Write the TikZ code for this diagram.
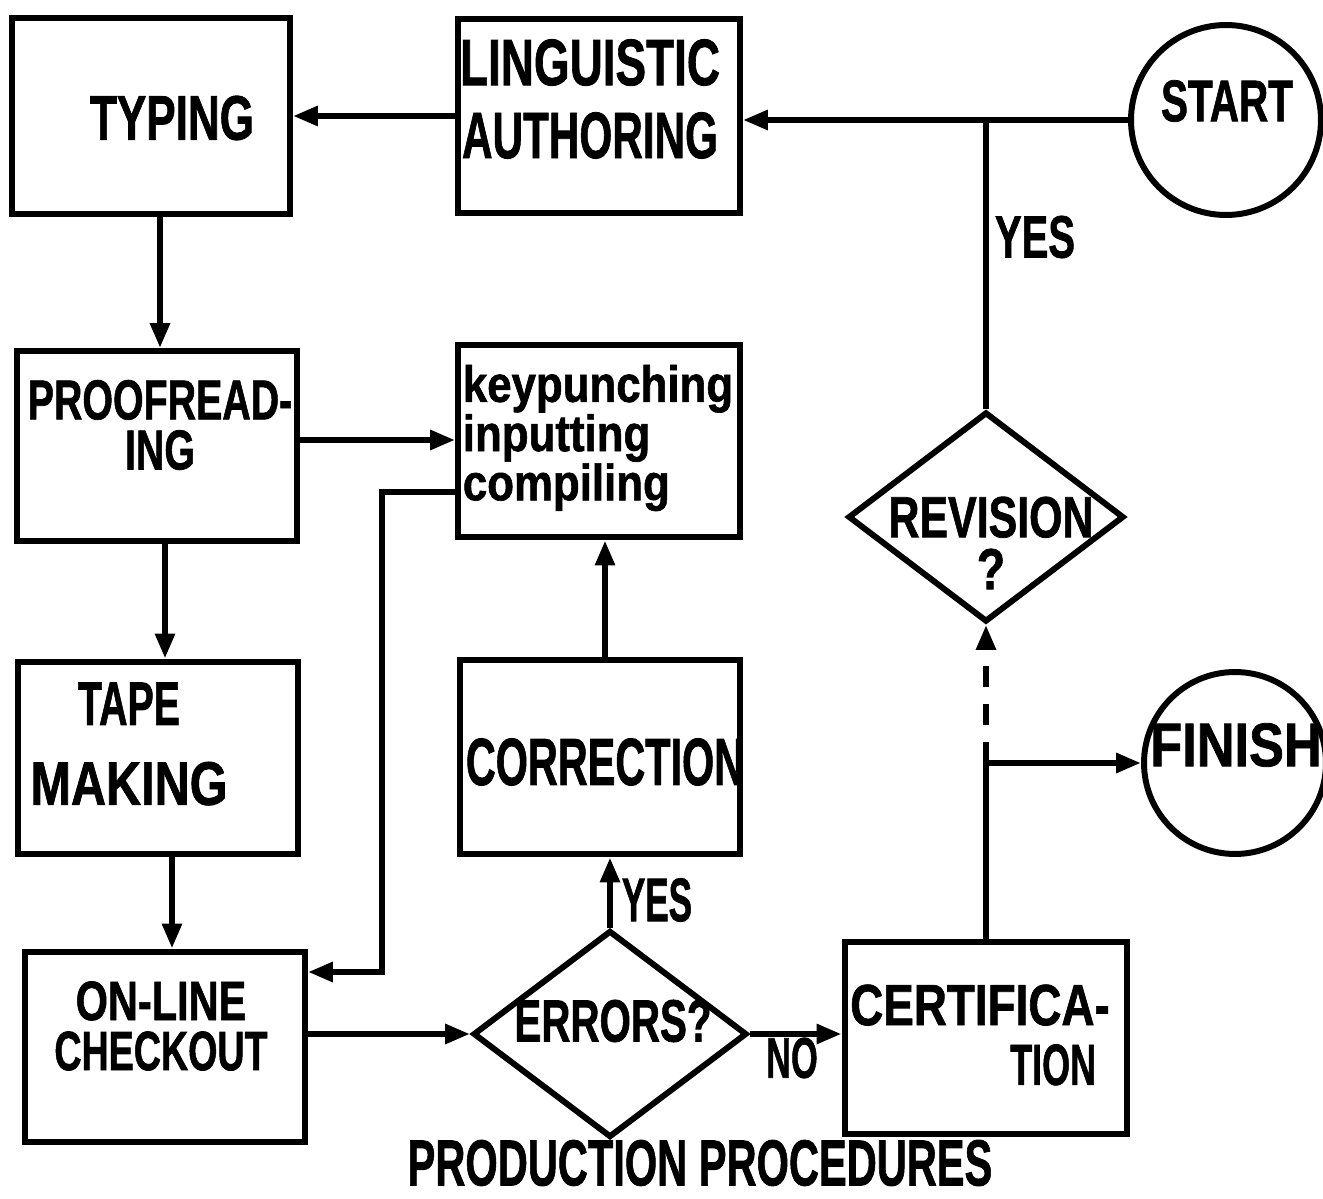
\documentclass[tikz,border=0pt]{standalone}
\usepackage{fontspec}
\setmainfont{Liberation Sans}[BoldFeatures={FakeBold=1.3}]
\usepackage{graphicx}
\usetikzlibrary{arrows.meta,shapes.geometric}
\newcommand{\hsc}[2]{\scalebox{#1}[1]{#2}}
\lineskiplimit=-100pt
\begin{document}
\begin{tikzpicture}[x=0.02cm,y=-0.02cm, line width=3.4pt,
  box/.style={draw, rectangle, inner sep=0pt},
  circ/.style={draw, circle, inner sep=0pt},
  dia/.style={draw, diamond, inner sep=0pt},
  lbl/.style={align=center, inner sep=0pt},
  arr/.style={-{Triangle[length=0.5cm,width=0.38cm]}},
  dsh/.style={dash pattern=on 0.42cm off 0.34cm}]
\useasboundingbox (0,0) rectangle (1323,1199);

% boxes
\node[box, minimum width=5.56cm, minimum height=3.94cm,
  label={[lbl, font=\bfseries\fontsize{35.8}{40}\selectfont, xshift=0.42cm, yshift=-0.04cm]center:{\hsc{0.70}{TYPING}}}] (typ) at (151,116) {};
\node[box, minimum width=5.64cm, minimum height=3.9cm,
  label={[lbl, font=\bfseries\fontsize{37.3}{41.5}\selectfont, xshift=-0.18cm, yshift=0.34cm]center:{\hsc{0.70}{LINGUISTIC}\\\hsc{0.645}{AUTHORING}}}] (ling) at (599,116) {};
\node[circ, minimum size=3.8cm,
  label={[lbl, font=\bfseries\fontsize{33.4}{38}\selectfont, xshift=0.02cm, yshift=0.38cm]center:{\hsc{0.69}{START}}}] (start) at (1226,120) {};
\node[box, minimum width=5.62cm, minimum height=3.8cm,
  label={[lbl, font=\bfseries\fontsize{32}{28.5}\selectfont, xshift=0.06cm, yshift=0.42cm]center:{\hsc{0.70}{PROOFREAD-}\\\hsc{0.70}{ING}}}] (proof) at (157,446) {};
\node[box, minimum width=5.64cm, minimum height=3.86cm,
  label={[lbl, align=left, font=\bfseries\fontsize{29}{28}\selectfont, xshift=-0.02cm, yshift=0.06cm]center:{\hsc{0.86}{keypunching}\\\hsc{0.86}{inputting}\\\hsc{0.86}{compiling}}}] (key) at (599,441) {};
\node[dia, minimum width=5.52cm, minimum height=4.2cm,
  label={[lbl, font=\bfseries\fontsize{33}{29.6}\selectfont, xshift=0.1cm, yshift=-0.52cm]center:{\hsc{0.74}{REVISION}\\\hsc{0.8}{?}}}] (rev) at (986,517) {};
\node[box, minimum width=5.6cm, minimum height=3.86cm,
  label={[lbl, font=\bfseries\fontsize{35}{45.5}\selectfont, xshift=-0.58cm, yshift=0.28cm]center:{\hsc{0.64}{TAPE}\\\hsc{0.79}{MAKING}}}] (tape) at (158,758) {};
\node[box, minimum width=5.6cm, minimum height=3.9cm,
  label={[lbl, font=\bfseries\fontsize{38}{42}\selectfont, xshift=0.1cm, yshift=-0.1cm]center:{\hsc{0.62}{CORRECTION}}}] (corr) at (600,757) {};
\node[circ, minimum size=3.64cm,
  label={[lbl, font=\bfseries\fontsize{35}{40}\selectfont, xshift=0.02cm, yshift=0.36cm]center:{\hsc{0.85}{FINISH}}}] (fin) at (1235,763) {};
\node[box, minimum width=5.6cm, minimum height=3.82cm,
  label={[lbl, font=\bfseries\fontsize{31.5}{28.5}\selectfont, xshift=-0.08cm, yshift=0.42cm]center:{\hsc{0.75}{ON-LINE}\\\hsc{0.68}{CHECKOUT}}}] (onl) at (165,1047) {};
\node[dia, minimum width=5.48cm, minimum height=4.14cm,
  label={[lbl, font=\bfseries\fontsize{34}{38}\selectfont, xshift=0.06cm, yshift=0.26cm]center:{\hsc{0.675}{ERRORS?}}}] (err) at (610,1034) {};
\node[box, minimum width=5.66cm, minimum height=3.86cm,
  label={[lbl, align=left, font=\bfseries\fontsize{33}{34}\selectfont, xshift=-0.12cm, yshift=0.06cm]center:{\hsc{0.79}{CERTIFICA-}\\\hspace*{3.2cm}\hsc{0.62}{TION}}}] (cert) at (986,1038) {};

% free labels
\node[lbl, font=\bfseries\fontsize{34}{38}\selectfont] (yes1) at (1035,237) {\hsc{0.67}{YES}};
\node[lbl, font=\bfseries\fontsize{35}{38}\selectfont] (yes2) at (657,900) {\hsc{0.57}{YES}};
\node[lbl, font=\bfseries\fontsize{32.6}{38}\selectfont] (no) at (792,1058) {\hsc{0.6}{NO}};
\node[lbl, font=\bfseries\fontsize{37}{42}\selectfont] (title) at (700,1163) {\hsc{0.64}{PRODUCTION PROCEDURES}};

% helper coordinates
\coordinate (a1) at ([xshift=0.18cm]typ.south);
\coordinate (a2) at ([yshift=0.12cm]proof.east);
\coordinate (a3) at ([yshift=-1.02cm]key.west);
\coordinate (a4) at ([yshift=1.5cm]onl.east);
\coordinate (a5) at ([xshift=0.16cm]proof.south);
\coordinate (a6) at ([xshift=0.28cm]tape.south);
\coordinate (a7) at ([xshift=0.1cm]corr.north);

% connectors
\draw[arr] (start.west) -- (start.west -| ling.east);
\draw (rev.north) -- (rev.north |- start.west);
\draw[arr] (ling.west) -- (ling.west -| typ.east);
\draw[arr] (a1) -- (a1 |- proof.north);
\draw[arr] (a2) -- (a2 -| key.west);
\draw[arr] (a3) -- ++(-73,0) |- (a4);
\draw[arr] (a5) -- (a5 |- tape.north);
\draw[arr] (a6) -- (a6 |- onl.north);
\draw[arr] (err.west -| onl.east) -- (err.west);
\draw[arr] (err.north) -- (err.north |- corr.south);
\draw[arr] (a7) -- (a7 |- key.south);
\draw[arr] (err.east) -- (err.east -| cert.west);
\draw[arr] (cert.north) |- (fin.west);
\draw[arr, dsh] (cert.north |- fin.west) -- (rev.south);
\end{tikzpicture}
\end{document}
